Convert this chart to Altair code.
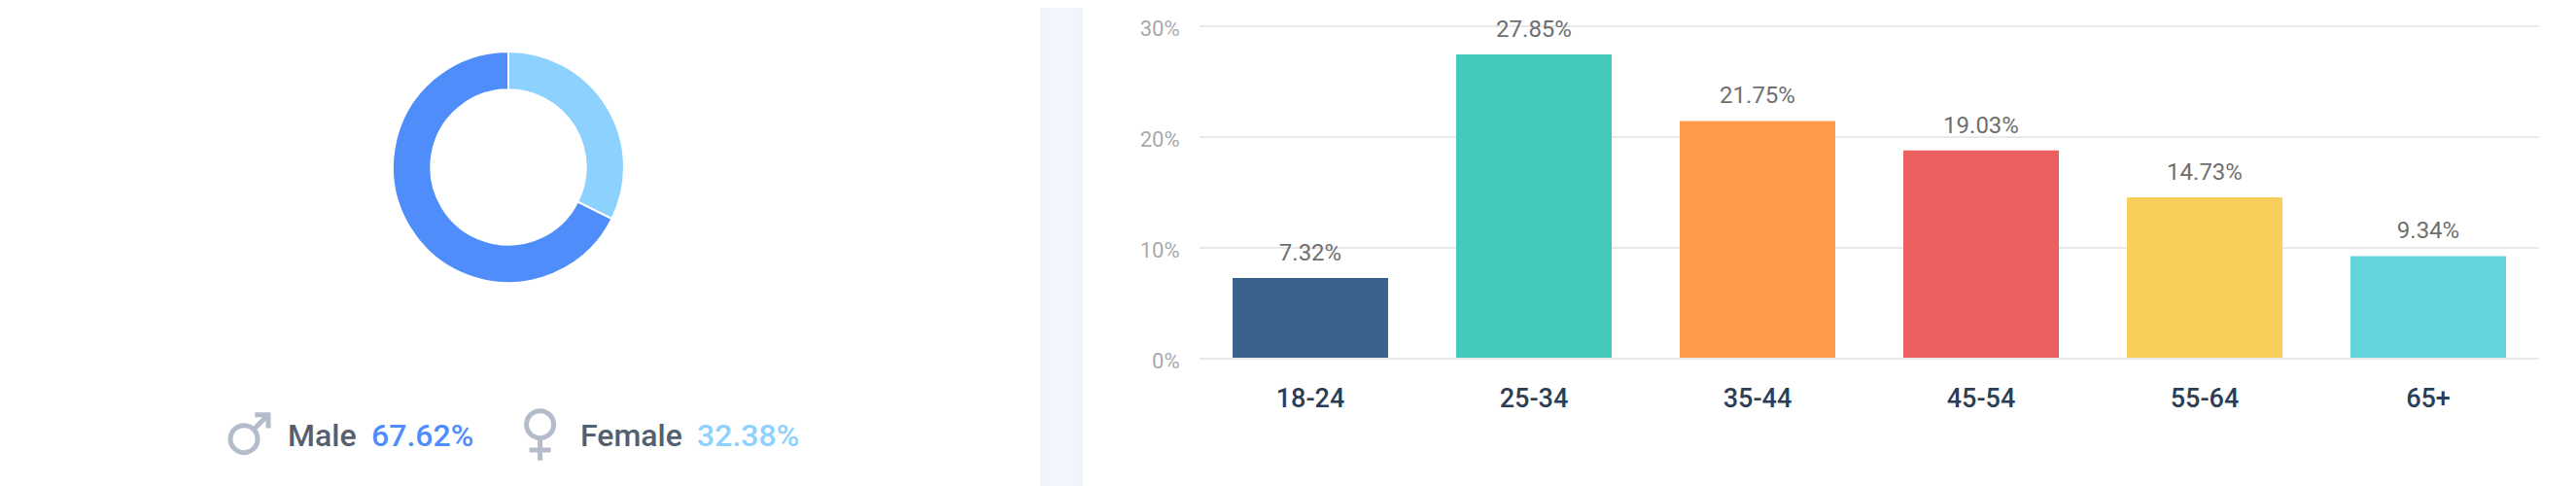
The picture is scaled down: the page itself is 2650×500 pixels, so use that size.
import altair as alt
import pandas as pd

genders = ["Female", "Male"]
shares = [32.38, 67.62]
gender_colors = ["#8dd2ff", "#4f8dfb"]

ages = ["18-24", "25-34", "35-44", "45-54", "55-64", "65+"]
age_values = [7.32, 27.85, 21.75, 19.03, 14.73, 9.34]
age_colors = ["#3a638c", "#42c9b9", "#ff9b4a", "#eb5f5f", "#f7cf5a", "#62d5dc"]
grid_ticks = [0, 10, 20, 30]

FONT = "Roboto"
H = 492
MALE_ICON = ("M -0.56 0 A 0.56 0.56 0 1 0 0.56 0 A 0.56 0.56 0 1 0 -0.56 0 Z "
             "M 0.4 -0.4 L 1.0 -1.0 M 0.45 -1.0 L 1.0 -1.0 L 1.0 -0.45")
FEMALE_ICON = ("M -0.56 0 A 0.56 0.56 0 1 0 0.56 0 A 0.56 0.56 0 1 0 -0.56 0 Z "
               "M 0 0.56 L 0 1.48 M -0.44 1.05 L 0.44 1.05")

gender_df = pd.DataFrame({"g": genders, "v": shares, "o": [0, 1]})
donut = alt.Chart(gender_df).mark_arc(
    outerRadius=119, innerRadius=79.7, stroke="white", strokeWidth=2
).encode(
    theta=alt.Theta("v:Q", stack=True, scale=alt.Scale(domain=[0, 100], range=[0, 6.28318530718])),
    order=alt.Order("o:Q"),
    color=alt.Color("g:N", scale=alt.Scale(domain=genders, range=gender_colors), legend=None),
    x=alt.value(515),
    y=alt.value(164),
)


def label(text, xpos, ypos, color, size=32, weight=500):
    return alt.Chart(pd.DataFrame({"t": [text]})).mark_text(
        align="left", baseline="alphabetic", font=FONT, fontSize=size, fontWeight=weight, color=color
    ).encode(text="t:N", x=alt.value(xpos), y=alt.value(ypos))


def icon(path, xpos, ypos):
    return alt.Chart(pd.DataFrame({"a": [0]})).mark_point(
        shape=path, size=2500, filled=False, stroke="#b4bccb", strokeWidth=5, opacity=1
    ).encode(x=alt.value(xpos), y=alt.value(ypos))


left = alt.layer(
    donut,
    icon(MALE_ICON, 243, 443.7),
    label("Male", 288, 451, "#54606f"),
    label("67.62%", 374, 451, "#4f8dfb"),
    icon(FEMALE_ICON, 547.6, 428.7),
    label("Female", 589, 451, "#54606f"),
    label("32.38%", 709, 451, "#8dd2ff"),
).properties(width=1062, height=H)

strip = alt.Chart(pd.DataFrame({"a": [0]})).mark_rect(
    color=alt.LinearGradient(
        gradient="linear", x1=0, x2=1, y1=0, y2=0,
        stops=[
            alt.GradientStop(offset=0, color="#eff3fa"),
            alt.GradientStop(offset=0.5, color="#f4f7fc"),
            alt.GradientStop(offset=1, color="#f1f5fb"),
        ],
    )
).encode(x=alt.value(0), x2=alt.value(44), y=alt.value(0), y2=alt.value(H)).properties(width=44, height=H)

bars_df = pd.DataFrame({"age": ages, "v": age_values, "lab": [f"{v:.2f}%" for v in age_values]})
x_enc = alt.X(
    "age:N", sort=ages, title=None,
    scale=alt.Scale(domain=ages, range=[119, 1499], paddingInner=0.304, paddingOuter=0.152),
    axis=alt.Axis(
        domain=False, ticks=False, labelAngle=0, labelFont=FONT, labelFontSize=27, labelFontWeight=500,
        labelColor="#2c3e55", labelPadding=0, offset=-90, labelBaseline="middle",
    ),
)
bar_scale = alt.Scale(domain=[0, 30], range=[360, 24])

grid = alt.Chart(pd.DataFrame({"t": grid_ticks})).mark_rule(color="#e2e2e4", strokeWidth=1.5).encode(
    y=alt.Y(
        "t:Q", title=None, scale=alt.Scale(domain=[0, 30], range=[361, 19]),
        axis=alt.Axis(
            values=grid_ticks, domain=False, ticks=False, grid=False, labelExpr="datum.value + '%'",
            labelFont=FONT, labelFontSize=22, labelColor="#aaaaaa", labelPadding=0, offset=-99,
            labelOffset=2,
        ),
    ),
    x=alt.value(120),
    x2=alt.value(1498),
)
bars = alt.Chart(bars_df).mark_bar(size=160).encode(
    x=x_enc,
    y=alt.Y("v:Q", title=None, scale=bar_scale, axis=None),
    color=alt.Color("age:N", sort=ages, scale=alt.Scale(domain=ages, range=age_colors), legend=None),
)
vals = alt.Chart(bars_df).mark_text(
    font=FONT, fontSize=24, color="#6f6f6f", dy=-25, baseline="middle"
).encode(
    x=alt.X("age:N", sort=ages),
    y=alt.Y("v:Q", scale=bar_scale, axis=None),
    text="lab:N",
)
right = alt.layer(grid, bars, vals).resolve_scale(y="independent").properties(width=1528, height=H)

chart = (
    alt.hconcat(left, strip, right, spacing=0, padding=0, bounds="flush")
    .resolve_scale(color="independent")
    .configure_view(stroke=None)
)
chart.save("out.html", embed_options={"renderer": "svg", "actions": False})
